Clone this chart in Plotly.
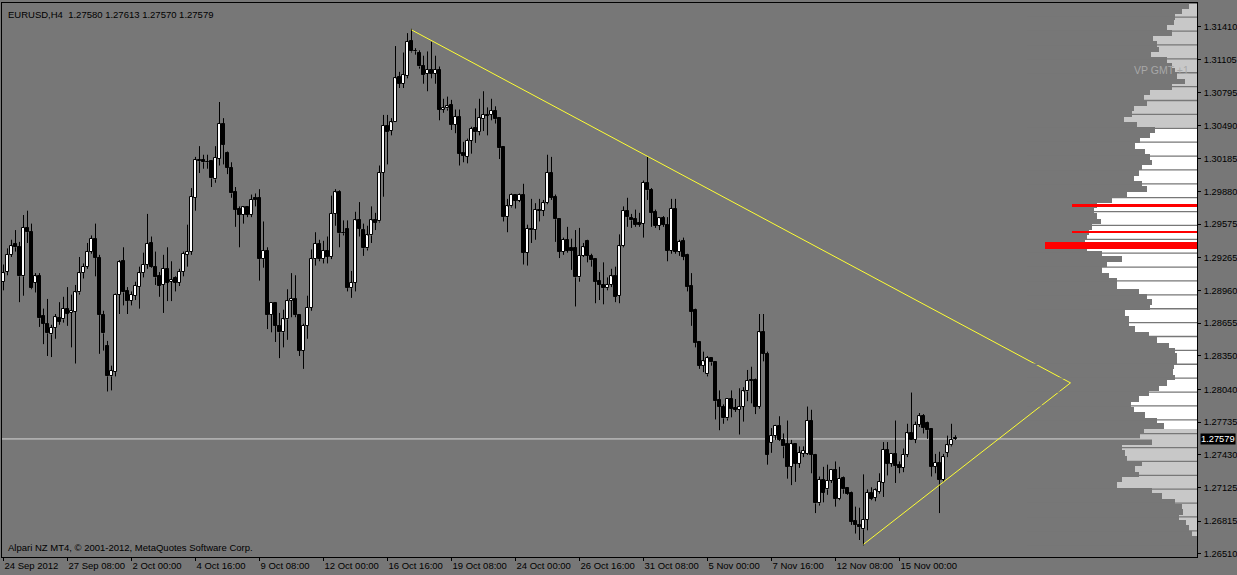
import plotly.graph_objects as go

# ---------------- data ----------------
symbol_title = "EURUSD,H4  1.27580 1.27613 1.27570 1.27579"
footer_text = "Alpari NZ MT4, \u00a9 2001-2012, MetaQuotes Software Corp."

open_ = [1.2904,1.2913,1.2929,1.2939,1.2936,1.2909,1.2954,1.2950,1.2903,1.2909,
 1.2872,1.2865,1.2855,1.2861,1.2870,1.2869,1.2879,1.2875,1.2876,1.2894,
 1.2912,1.2918,1.2932,1.2944,1.2926,1.2873,1.2844,1.2816,1.2820,1.2892,
 1.2923,1.2895,1.2886,1.2891,1.2899,1.2912,1.2920,1.2940,1.2918,1.2909,
 1.2901,1.2916,1.2904,1.2907,1.2903,1.2913,1.2929,1.2932,1.2982,1.3017,
 1.3017,1.3015,1.3016,1.2999,1.3018,1.3051,1.3024,1.3010,1.2987,1.2972,
 1.2966,1.2973,1.2966,1.2982,1.2982,1.2925,1.2933,1.2873,1.2884,1.2863,
 1.2857,1.2869,1.2886,1.2888,1.2873,1.2840,1.2863,1.2880,1.2925,1.2939,
 1.2925,1.2933,1.2927,1.2967,1.2987,1.2949,1.2953,1.2898,1.2903,1.2961,
 1.2952,1.2935,1.2947,1.2961,1.2960,1.3005,1.3049,1.3044,1.3052,1.3094,
 1.3088,1.3095,1.3128,1.3118,1.3117,1.3104,1.3097,1.3101,1.3097,1.3101,
 1.3064,1.3065,1.3068,1.3050,1.3057,1.3024,1.3020,1.3035,1.3047,1.3043,
 1.3055,1.3058,1.3059,1.3063,1.3056,1.3029,1.2964,1.2974,1.2985,1.2979,
 1.2985,1.2931,1.2953,1.2952,1.2971,1.2970,1.2977,1.3005,1.2983,1.2962,
 1.2932,1.2943,1.2935,1.2935,1.2908,1.2928,1.2942,1.2928,1.2925,1.2905,
 1.2901,1.2898,1.2901,1.2909,1.2891,1.2937,1.2970,1.2963,1.2962,1.2959,
 1.2958,1.2996,1.2989,1.2969,1.2956,1.2963,1.2957,1.2933,1.2972,1.2932,
 1.2942,1.2929,1.2900,1.2878,1.2848,1.2826,1.2818,1.2833,1.2829,1.2794,
 1.2788,1.2777,1.2795,1.2787,1.2785,1.2788,1.2802,1.2813,1.2813,1.2788,
 1.2857,1.2837,1.2754,1.2761,1.2770,1.2757,1.2753,1.2732,1.2753,1.2735,
 1.2744,1.2744,1.2775,1.2743,1.2698,1.2720,1.2711,1.2719,1.2729,1.2702,
 1.2722,1.2712,1.2708,1.2682,1.2678,1.2674,1.2683,1.2708,1.2703,1.2709,
 1.2717,1.2748,1.2735,1.2744,1.2734,1.2731,1.2743,1.2763,1.2757,1.2771,
 1.2779,1.2773,1.2767,1.2732,1.2736,1.2720,1.2745,1.2752,1.27580]

high_ = [1.2920,1.2935,1.2943,1.2952,1.2941,1.2966,1.2970,1.2958,1.2912,1.2912,
 1.2879,1.2888,1.2864,1.2874,1.2885,1.2890,1.2899,1.2892,1.2901,1.2927,
 1.2921,1.2940,1.2947,1.2958,1.2929,1.2877,1.2849,1.2826,1.2893,1.2924,
 1.2936,1.2899,1.2895,1.2904,1.2918,1.2931,1.2967,1.2946,1.2932,1.2913,
 1.2929,1.2936,1.2923,1.2909,1.2916,1.2932,1.2957,1.2991,1.3020,1.3030,
 1.3022,1.3022,1.3017,1.3030,1.3071,1.3056,1.3025,1.3015,1.2992,1.2974,
 1.2974,1.2974,1.2985,1.2986,1.2990,1.2960,1.2936,1.2884,1.2884,1.2875,
 1.2878,1.2897,1.2912,1.2910,1.2874,1.2865,1.2891,1.2934,1.2950,1.2943,
 1.2942,1.2946,1.2984,1.2990,1.2989,1.2961,1.2961,1.2914,1.2969,1.2978,
 1.2958,1.2956,1.2974,1.2968,1.3012,1.3059,1.3059,1.3056,1.3123,1.3099,
 1.3117,1.3135,1.3139,1.3121,1.3119,1.3114,1.3118,1.3127,1.3114,1.3104,
 1.3074,1.3076,1.3073,1.3064,1.3064,1.3034,1.3037,1.3048,1.3065,1.3074,
 1.3081,1.3066,1.3074,1.3067,1.3057,1.3029,1.2981,1.2986,1.2985,1.2986,
 1.2995,1.2957,1.2981,1.2977,1.2981,1.2980,1.3022,1.3020,1.2985,1.2962,
 1.2945,1.2955,1.2944,1.2952,1.2954,1.2940,1.2943,1.2930,1.2926,1.2913,
 1.2922,1.2908,1.2916,1.2918,1.2948,1.2974,1.2982,1.2967,1.2971,1.2968,
 1.2998,1.3020,1.2991,1.2971,1.2964,1.2965,1.2964,1.2981,1.2981,1.2943,
 1.2945,1.2930,1.2912,1.2879,1.2848,1.2839,1.2835,1.2834,1.2829,1.2803,
 1.2790,1.2795,1.2803,1.2795,1.2805,1.2806,1.2822,1.2825,1.2814,1.2874,
 1.2874,1.2839,1.2768,1.2771,1.2779,1.2763,1.2775,1.2757,1.2754,1.2751,
 1.2751,1.2788,1.2785,1.2744,1.2723,1.2732,1.2734,1.2730,1.2737,1.2732,
 1.2723,1.2713,1.2709,1.2695,1.2694,1.2725,1.2711,1.2713,1.2712,1.2726,
 1.2755,1.2755,1.2744,1.2775,1.2737,1.2749,1.2772,1.2801,1.2774,1.2782,
 1.2781,1.2774,1.2768,1.2744,1.2746,1.2744,1.2761,1.2772,1.27613]

low_ = [1.2896,1.2910,1.2927,1.2932,1.2885,1.2891,1.2940,1.2897,1.2894,1.2862,
 1.2846,1.2835,1.2834,1.2851,1.2864,1.2866,1.2863,1.2843,1.2828,1.2892,
 1.2907,1.2916,1.2930,1.2909,1.2837,1.2840,1.2802,1.2803,1.2816,1.2874,
 1.2882,1.2874,1.2882,1.2887,1.2879,1.2908,1.2916,1.2917,1.2901,1.2890,
 1.2875,1.2886,1.2886,1.2895,1.2900,1.2909,1.2918,1.2929,1.2970,1.3005,
 1.3009,1.3009,1.2992,1.2996,1.3012,1.3013,1.3004,1.2982,1.2955,1.2936,
 1.2958,1.2964,1.2964,1.2974,1.2905,1.2917,1.2860,1.2857,1.2848,1.2833,
 1.2843,1.2850,1.2871,1.2871,1.2835,1.2823,1.2851,1.2877,1.2919,1.2923,
 1.2921,1.2921,1.2925,1.2956,1.2936,1.2947,1.2895,1.2889,1.2895,1.2946,
 1.2928,1.2933,1.2940,1.2952,1.2959,1.2983,1.3013,1.3040,1.3052,1.3084,
 1.3084,1.3093,1.3117,1.3115,1.3102,1.3088,1.3081,1.3093,1.3088,1.3054,
 1.3061,1.3063,1.3045,1.3042,1.3012,1.3015,1.3014,1.3023,1.3033,1.3040,
 1.3044,1.3040,1.3054,1.3051,1.3018,1.2960,1.2950,1.2973,1.2972,1.2978,
 1.2920,1.2919,1.2940,1.2943,1.2960,1.2965,1.2976,1.2980,1.2941,1.2926,
 1.2929,1.2931,1.2915,1.2881,1.2904,1.2927,1.2922,1.2918,1.2884,1.2887,
 1.2883,1.2896,1.2899,1.2885,1.2884,1.2936,1.2955,1.2954,1.2955,1.2955,
 1.2945,1.2980,1.2955,1.2954,1.2952,1.2955,1.2923,1.2930,1.2930,1.2928,
 1.2924,1.2895,1.2863,1.2843,1.2823,1.2820,1.2816,1.2826,1.2776,1.2766,
 1.2772,1.2775,1.2778,1.2783,1.2762,1.2774,1.2793,1.2791,1.2781,1.2786,
 1.2830,1.2734,1.2745,1.2757,1.2756,1.2740,1.2721,1.2715,1.2718,1.2731,
 1.2741,1.2743,1.2726,1.2689,1.2696,1.2699,1.2706,1.2717,1.2695,1.2701,
 1.2707,1.2706,1.2678,1.2670,1.2664,1.2659,1.2673,1.2701,1.2700,1.2707,
 1.2704,1.2724,1.2732,1.2717,1.2726,1.2727,1.2741,1.2757,1.2754,1.2769,
 1.2763,1.2758,1.2723,1.2726,1.2689,1.2718,1.2741,1.2751,1.27570]

close_ = [1.2912,1.2929,1.2937,1.2936,1.2909,1.2954,1.2950,1.2898,1.2909,1.2870,
 1.2865,1.2856,1.2861,1.2871,1.2867,1.2879,1.2874,1.2877,1.2894,1.2912,
 1.2918,1.2932,1.2944,1.2926,1.2873,1.2856,1.2816,1.2821,1.2892,1.2922,
 1.2894,1.2886,1.2892,1.2900,1.2912,1.2920,1.2939,1.2918,1.2908,1.2900,
 1.2916,1.2903,1.2906,1.2903,1.2913,1.2930,1.2932,1.2983,1.3017,1.3016,
 1.3015,1.3015,1.3000,1.3019,1.3051,1.3031,1.3010,1.2986,1.2971,1.2966,
 1.2973,1.2966,1.2980,1.2980,1.2925,1.2933,1.2873,1.2884,1.2863,1.2857,
 1.2869,1.2886,1.2888,1.2873,1.2840,1.2863,1.2880,1.2925,1.2939,1.2925,
 1.2933,1.2927,1.2967,1.2987,1.2949,1.2949,1.2898,1.2903,1.2961,1.2953,
 1.2935,1.2947,1.2961,1.2959,1.3005,1.3049,1.3043,1.3052,1.3093,1.3088,
 1.3096,1.3127,1.3118,1.3118,1.3104,1.3096,1.3101,1.3097,1.3101,1.3064,
 1.3065,1.3067,1.3050,1.3057,1.3023,1.3021,1.3035,1.3046,1.3043,1.3056,
 1.3059,1.3058,1.3063,1.3055,1.3028,1.2964,1.2974,1.2985,1.2979,1.2985,
 1.2931,1.2953,1.2952,1.2971,1.2970,1.2977,1.3005,1.2982,1.2962,1.2932,
 1.2943,1.2933,1.2933,1.2908,1.2928,1.2936,1.2928,1.2924,1.2904,1.2901,
 1.2898,1.2901,1.2909,1.2890,1.2937,1.2970,1.2964,1.2961,1.2957,1.2957,
 1.2996,1.2989,1.2968,1.2956,1.2963,1.2957,1.2933,1.2972,1.2932,1.2941,
 1.2927,1.2899,1.2876,1.2847,1.2826,1.2830,1.2833,1.2829,1.2793,1.2788,
 1.2777,1.2795,1.2786,1.2785,1.2788,1.2802,1.2812,1.2812,1.2788,1.2857,
 1.2837,1.2743,1.2761,1.2770,1.2757,1.2751,1.2732,1.2753,1.2735,1.2745,
 1.2747,1.2775,1.2743,1.2698,1.2720,1.2708,1.2719,1.2729,1.2702,1.2721,
 1.2711,1.2707,1.2681,1.2678,1.2676,1.2683,1.2708,1.2702,1.2710,1.2718,
 1.2748,1.2735,1.2744,1.2733,1.2731,1.2743,1.2763,1.2757,1.2771,1.2779,
 1.2768,1.2766,1.2732,1.2736,1.2720,1.2741,1.2752,1.2757,1.27579]

bar_index = list(range(len(open_)))

date_tick_bars = [0, 16, 32, 48, 64, 80, 96, 112, 128, 144, 160, 176, 192, 208, 224]
date_labels = ["24 Sep 2012", "27 Sep 08:00", "2 Oct 00:00", "4 Oct 16:00", "9 Oct 08:00",
               "12 Oct 00:00", "16 Oct 16:00", "19 Oct 08:00", "24 Oct 00:00", "26 Oct 16:00",
               "31 Oct 08:00", "5 Nov 00:00", "7 Nov 16:00", "12 Nov 08:00", "15 Nov 00:00"]

price_ticks = [1.31410, 1.31105, 1.30795, 1.30490, 1.30185, 1.29880, 1.29575, 1.29265,
               1.28960, 1.28655, 1.28350, 1.28040, 1.27735, 1.27430, 1.27125, 1.26815, 1.26510]
price_labels = ["%.5f" % v for v in price_ticks]

# volume profile (right side), levels top -> bottom
vp_levels = [round(1.3160 - 0.0005 * i, 4) for i in range(99)]
vp_volume = [8, 15, 22, 23, 30, 25, 44, 40, 38, 46, 30, 25, 22, 20, 12, 25, 47, 53, 50, 63,
             65, 73, 60, 42, 47, 57, 62, 52, 47, 45, 55, 58, 63, 55, 50, 70, 85, 100, 103, 100,
             96, 105, 108, 110, 112, 110, 95, 75, 90, 95, 88, 80, 80, 58, 50, 45, 47, 72, 68, 68,
             62, 48, 40, 28, 22, 20, 20, 23, 24, 22, 30, 38, 48, 58, 66, 63, 52, 40, 33, 53,
             57, 45, 75, 72, 70, 55, 62, 58, 75, 80, 45, 35, 22, 15, 14, 18, 11, 8, 5]
va_high = 1.3048
va_low = 1.2768
poc_levels = [1.29750, 1.29500, 1.29375]
poc_volume = [125, 125, 152]
poc_thickness = [0.00028, 0.00022, 0.00066]
vp_sep_start = 1.30466
vp_sep_step = 0.00129

trend_bars = [102, 266.75, 215]
trend_prices = [1.3138, 1.2810, 1.2660]

# ---------------- styling ----------------
BG = "#777777"
FONT = "Liberation Sans"
XMIN, XMAX = -0.375, 298.375
YMIN, YMAX = 1.26482, 1.31630
PROFILE_SPAN = 1195.0

fig = go.Figure()

# candle wicks (split so they never cross the bodies)
wx, wy = [], []
for k, o, h, l, c in zip(bar_index, open_, high_, low_, close_):
    top, bot = max(o, c), min(o, c)
    if h > top:
        wx += [k, k, None]
        wy += [top, h, None]
    if l < bot:
        wx += [k, k, None]
        wy += [l, bot, None]
fig.add_trace(go.Scatter(x=wx, y=wy, mode="lines", line=dict(color="#000000", width=1),
                         hoverinfo="skip", showlegend=False))

# candle bodies
base = [min(o, c) for o, c in zip(open_, close_)]
height = [max(abs(c - o), 0.00006) for o, c in zip(open_, close_)]
body_col = ["#ffffff" if c > o else "#000000" for o, c in zip(open_, close_)]
fig.add_trace(go.Bar(x=bar_index, y=height, base=base, width=0.55,
                     marker=dict(color=body_col, line=dict(color="#000000", width=1)),
                     hoverinfo="skip", showlegend=False))

# trend lines
fig.add_trace(go.Scatter(x=trend_bars, y=trend_prices, mode="lines",
                         line=dict(color="#ffff33", width=1),
                         hoverinfo="skip", showlegend=False))

# volume profile (overlay axis, bars grow leftwards from the right edge)
vp_colors = ["#c8c8c8" if (p > va_high or p < va_low) else "#ffffff" for p in vp_levels]
fig.add_trace(go.Bar(x=vp_volume, y=vp_levels, orientation="h", width=0.0005,
                     marker=dict(color=vp_colors, line=dict(width=0)),
                     xaxis="x2", yaxis="y", hoverinfo="skip", showlegend=False))
fig.add_trace(go.Bar(x=poc_volume, y=poc_levels, orientation="h", width=poc_thickness,
                     marker=dict(color="#ff0000", line=dict(width=0)),
                     xaxis="x2", yaxis="y", hoverinfo="skip", showlegend=False))

# profile separators (background coloured gaps)
sx, sy = [], []
p = vp_sep_start
while p < YMAX:
    p += vp_sep_step
p -= vp_sep_step
while p > YMIN:
    sx += [0, 170, None]
    sy += [p, p, None]
    p -= vp_sep_step
fig.add_trace(go.Scatter(x=sx, y=sy, mode="lines", line=dict(color=BG, width=1.3),
                         xaxis="x2", yaxis="y", hoverinfo="skip", showlegend=False))

# bid line
fig.add_hline(y=close_[-1], line=dict(color="#d8d8d8", width=1), layer="below")

fig.update_layout(
    width=1237, height=575,
    margin=dict(l=2, r=40, t=3, b=18, autoexpand=False),
    paper_bgcolor=BG, plot_bgcolor=BG,
    barmode="overlay", bargap=0,
    showlegend=False,
    font=dict(family=FONT, size=9.5, color="#000000"),
    xaxis=dict(range=[XMIN, XMAX], tickmode="array", tickvals=date_tick_bars,
               ticktext=date_labels, ticks="outside", ticklen=3, tickcolor="#000000",
               ticklabelposition="outside right", tickangle=0, automargin=False,
               showgrid=False, zeroline=False, showline=True, linecolor="#000000",
               linewidth=1, mirror=True, tickfont=dict(size=9.5, family=FONT)),
    xaxis2=dict(range=[PROFILE_SPAN, 0], overlaying="x", anchor="y", side="top",
                visible=False, showgrid=False, zeroline=False),
    yaxis=dict(range=[YMIN, YMAX], side="right", tickmode="array", tickvals=price_ticks,
               ticktext=price_labels, ticks="outside", ticklen=3, tickcolor="#000000",
               automargin=False, ticklabelstandoff=1,
               showgrid=False, zeroline=False, showline=True, linecolor="#000000",
               linewidth=1, mirror=True, tickfont=dict(size=9.3, family=FONT)),
)

fig.add_annotation(text=symbol_title, xref="paper", yref="paper", x=0, y=1,
                   xanchor="left", yanchor="top", xshift=4, yshift=-4, showarrow=False,
                   font=dict(size=9.5, family=FONT, color="#000000"))
fig.add_annotation(text=footer_text, xref="paper", yref="paper", x=0, y=0,
                   xanchor="left", yanchor="bottom", xshift=4, yshift=2, showarrow=False,
                   font=dict(size=9.5, family=FONT, color="#000000"))
fig.add_annotation(text="VP GMT +1", xref="paper", yref="y", x=0.9707, y=1.3101,
                   xanchor="center", yanchor="middle", showarrow=False,
                   font=dict(size=10.5, family=FONT, color="#a8a8a8"))
fig.add_annotation(text="%.5f" % close_[-1], xref="paper", yref="y", x=1, y=close_[-1],
                   xanchor="left", yanchor="middle", xshift=3, showarrow=False,
                   bgcolor="#000000", borderpad=0,
                   font=dict(size=9.3, family=FONT, color="#ffffff"))

fig.write_html("out.html", config={"displayModeBar": False},
               post_script="document.body.style.margin='0';document.body.style.background='%s';" % BG)
